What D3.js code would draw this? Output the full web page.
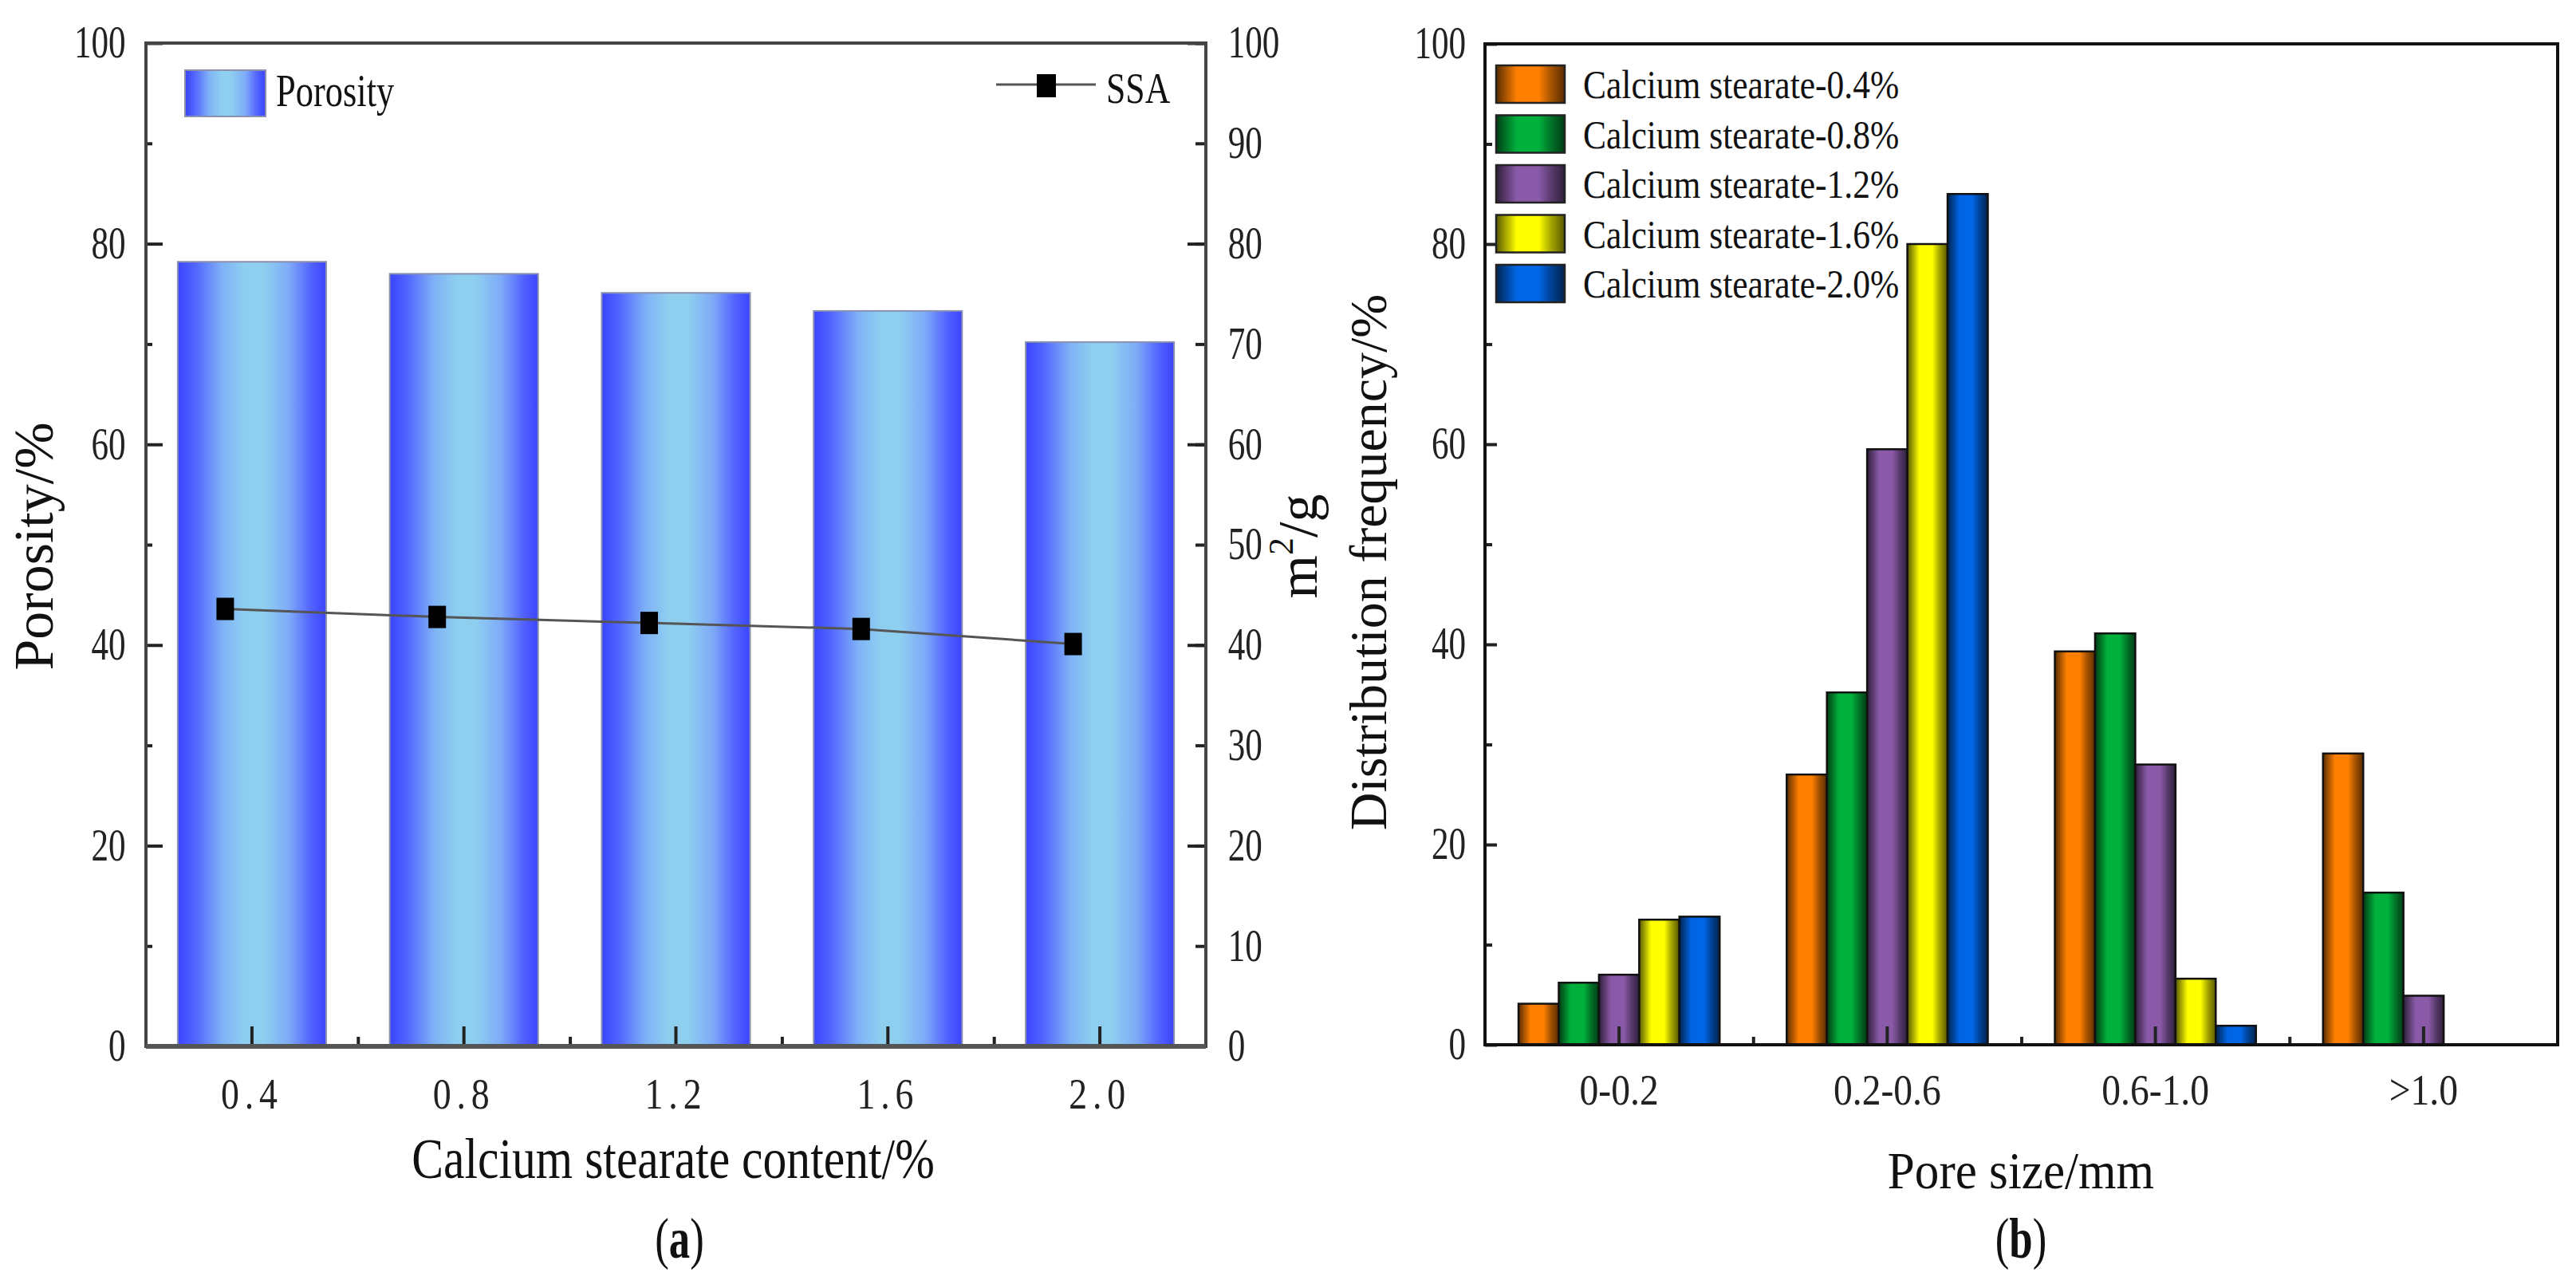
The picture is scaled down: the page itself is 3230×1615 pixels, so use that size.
<!DOCTYPE html>
<html>
<head>
<meta charset="utf-8">
<script src="https://cdn.jsdelivr.net/npm/d3@7"></script>
<style>
  html, body { margin: 0; padding: 0; background: #fff; }
  svg { display: block; font-family: "Liberation Serif", "Times New Roman", serif; }
</style>
</head>
<body>
<svg id="chart" width="3230" height="1615"></svg>
<script>
// panel (a) data
var contents = ["0.4", "0.8", "1.2", "1.6", "2.0"];
var porosity = [78.2, 77.0, 75.1, 73.3, 70.2];
var ssa = [43.6, 42.8, 42.2, 41.6, 40.1];

// panel (b) data
var poreSizes = ["0-0.2", "0.2-0.6", "0.6-1.0", ">1.0"];
var seriesNames = ["Calcium stearate-0.4%", "Calcium stearate-0.8%", "Calcium stearate-1.2%", "Calcium stearate-1.6%", "Calcium stearate-2.0%"];
var freq04 = [4.1, 27.0, 39.3, 29.1];
var freq08 = [6.2, 35.2, 41.1, 15.2];
var freq12 = [7.0, 59.5, 28.0, 4.9];
var freq16 = [12.5, 80.0, 6.6, 0];
var freq20 = [12.8, 85.0, 1.9, 0];
var seriesColors = ["#ff8000", "#00b03c", "#8a5aa8", "#ffff00", "#0066e6"];

var svg = d3.select("#chart");
var defs = svg.append("defs");

// helper for condensed text
function label(parent, x, y, str, size, opts) {
    opts = opts || {};
    var tr = "translate(" + x + "," + y + ")";
    if (opts.rotate) tr += " rotate(" + opts.rotate + ")";
    tr += " scale(" + (opts.sx || 1) + ",1)";
    return parent.append("text")
        .attr("transform", tr)
        .attr("text-anchor", opts.anchor || "start")
        .attr("font-size", size)
        .attr("font-weight", opts.bold ? "bold" : null)
        .attr("fill", "#111")
        .text(str);
}

function styleTicks(g, size, sx) {
    g.attr("font-family", null).attr("font-size", null);
    g.select(".domain").remove();
    g.selectAll(".tick line").attr("stroke", "#222").attr("stroke-width", 4);
    g.selectAll(".tick text")
        .attr("font-size", size)
        .attr("fill", "#222")
        .attr("transform", "scale(" + sx + ",1)");
}

// ---------- panel (a) ----------
var a = { left: 183, right: 1512, top: 54, bottom: 1312 };

var xa = d3.scaleBand().domain(contents).range([a.left, a.right]).paddingInner(0.3).paddingOuter(0.15);
var ya = d3.scaleLinear().domain([0, 100]).range([a.bottom, a.top]);
var ya2 = d3.scaleLinear().domain([0, 100]).range([a.bottom, a.top]);
var xaIdx = d3.scaleLinear().domain([0, contents.length]).range([a.left, a.right]);

var blueGrad = defs.append("linearGradient").attr("id", "blueGrad").attr("x1", 0).attr("x2", 1).attr("y1", 0).attr("y2", 0);
[[0, "#3a44ff"], [0.12, "#5266ff"], [0.3, "#7fb2f6"], [0.45, "#8ecff0"], [0.58, "#8ecff0"], [0.75, "#7eaaf7"], [0.9, "#5262ff"], [1, "#3a44ff"]]
    .forEach(function(s) { blueGrad.append("stop").attr("offset", s[0]).attr("stop-color", s[1]); });

var ga = svg.append("g");

ga.selectAll("rect.bar")
    .data(porosity)
    .enter().append("rect")
    .attr("class", "bar")
    .attr("x", (d, i) => xa(contents[i]))
    .attr("y", (d) => ya(d))
    .attr("width", xa.bandwidth())
    .attr("height", (d) => ya(0) - ya(d))
    .attr("fill", "url(#blueGrad)")
    .attr("stroke", "#8a90b0")
    .attr("stroke-width", 2);

// SSA line
var ssaX = (d, i) => xa(contents[i]) + xa.bandwidth() * 0.32;
var line = d3.line().x(ssaX).y((d) => ya2(d));
ga.append("path")
    .datum(ssa)
    .attr("d", line)
    .attr("fill", "none")
    .attr("stroke", "#555")
    .attr("stroke-width", 3);
ga.selectAll("rect.marker")
    .data(ssa)
    .enter().append("rect")
    .attr("class", "marker")
    .attr("x", (d, i) => ssaX(d, i) - 11)
    .attr("y", (d) => ya2(d) - 14)
    .attr("width", 22)
    .attr("height", 28)
    .attr("fill", "#000");

// left axis
var la = ga.append("g").attr("transform", "translate(" + a.left + ",0)")
    .call(d3.axisLeft(ya).tickValues([0, 20, 40, 60, 80, 100]).tickSize(-21).tickPadding(33));
styleTicks(la, 56, 0.77);
var laMinor = ga.append("g").attr("transform", "translate(" + a.left + ",0)")
    .call(d3.axisLeft(ya).tickValues([10, 30, 50, 70, 90]).tickSize(-8).tickFormat(""));
styleTicks(laMinor, 56, 0.77);

// right axis
var ra = ga.append("g").attr("transform", "translate(" + a.right + ",0)")
    .call(d3.axisRight(ya2).tickValues(d3.range(0, 101, 10)).tickSize(-13).tickPadding(36));
styleTicks(ra, 56, 0.77);
var raMajor = ga.append("g").attr("transform", "translate(" + a.right + ",0)")
    .call(d3.axisRight(ya2).tickValues([0, 20, 40, 60, 80, 100]).tickSize(-23).tickFormat(""));
styleTicks(raMajor, 56, 0.77);

// bottom axis
var ba = ga.append("g").attr("transform", "translate(0," + a.bottom + ")")
    .call(d3.axisBottom(xa).tickSize(-25).tickPadding(40));
styleTicks(ba, 54, 0.85);
ba.selectAll(".tick text").attr("letter-spacing", 8);
var baMinor = ga.append("g").attr("transform", "translate(0," + a.bottom + ")")
    .call(d3.axisBottom(xaIdx).tickValues([1, 2, 3, 4]).tickSize(-12).tickFormat(""));
styleTicks(baMinor, 54, 1);

// frame
ga.append("rect")
    .attr("x", a.left).attr("y", a.top)
    .attr("width", a.right - a.left).attr("height", a.bottom - a.top)
    .attr("fill", "none").attr("stroke", "#444").attr("stroke-width", 4);
ga.append("line")
    .attr("x1", a.left).attr("x2", a.right).attr("y1", a.bottom).attr("y2", a.bottom)
    .attr("stroke", "#555").attr("stroke-width", 6);

// legend (a)
ga.append("rect").attr("x", 232).attr("y", 88).attr("width", 101).attr("height", 58)
    .attr("fill", "url(#blueGrad)").attr("stroke", "#8a90b0").attr("stroke-width", 2);
label(ga, 346, 133, "Porosity", 57, { sx: 0.78 });
ga.append("line").attr("x1", 1249).attr("x2", 1374).attr("y1", 106).attr("y2", 106)
    .attr("stroke", "#555").attr("stroke-width", 3);
ga.append("rect").attr("x", 1300).attr("y", 93).attr("width", 24).attr("height", 29).attr("fill", "#000");
label(ga, 1387, 129, "SSA", 54, { sx: 0.81 });

// titles (a)
label(ga, 66, 685, "Porosity/%", 70, { rotate: -90, anchor: "middle", sx: 1 });
var m2 = ga.append("text")
    .attr("transform", "translate(1651,685) rotate(-90)")
    .attr("text-anchor", "middle")
    .attr("font-size", 70)
    .attr("fill", "#111");
m2.append("tspan").text("m");
m2.append("tspan").attr("font-size", 44).attr("dy", -30).text("2");
m2.append("tspan").attr("dy", 30).text("/g");
label(ga, 844, 1477, "Calcium stearate content/%", 71, { anchor: "middle", sx: 0.84 });
var capA = ga.append("text").attr("transform", "translate(852,1577) scale(0.8,1.1)").attr("text-anchor", "middle").attr("font-size", 66).attr("fill", "#111");
capA.append("tspan").text("(");
capA.append("tspan").attr("font-weight", "bold").text("a");
capA.append("tspan").text(")");

// ---------- panel (b) ----------
var b = { left: 1862, right: 3207, top: 55, bottom: 1310 };
var seriesValues = [freq04, freq08, freq12, freq16, freq20];

var xb = d3.scaleBand().domain(poreSizes).range([b.left, b.right]).paddingInner(0.25).paddingOuter(0.125);
var xb1 = d3.scaleBand().domain(d3.range(seriesNames.length)).range([0, xb.bandwidth()]);
var yb = d3.scaleLinear().domain([0, 100]).range([b.bottom, b.top]);
var xbIdx = d3.scaleLinear().domain([0, poreSizes.length]).range([b.left, b.right]);

seriesColors.forEach(function(c, i) {
    var g = defs.append("linearGradient").attr("id", "grad" + i).attr("x1", 0).attr("x2", 1).attr("y1", 0).attr("y2", 0);
    var dark = (k) => d3.rgb(c).darker(k).formatHex();
    [[0, dark(3)], [0.12, dark(1.4)], [0.3, c], [0.62, c], [0.8, dark(1.2)], [1, dark(3)]]
        .forEach(function(s) { g.append("stop").attr("offset", s[0]).attr("stop-color", s[1]); });
});

var gb = svg.append("g");

seriesValues.forEach(function(vals, si) {
    var cells = poreSizes.map((cat, j) => ({ cat: cat, v: vals[j] })).filter((d) => d.v > 0);
    gb.selectAll("rect.s" + si)
        .data(cells)
        .enter().append("rect")
        .attr("class", "s" + si)
        .attr("x", (d) => xb(d.cat) + xb1(si))
        .attr("y", (d) => yb(d.v))
        .attr("width", xb1.bandwidth())
        .attr("height", (d) => yb(0) - yb(d.v))
        .attr("fill", "url(#grad" + si + ")")
        .attr("stroke", "#111")
        .attr("stroke-width", 2.5);
});

var lb = gb.append("g").attr("transform", "translate(" + b.left + ",0)")
    .call(d3.axisLeft(yb).tickValues([0, 20, 40, 60, 80, 100]).tickSize(-15).tickPadding(31));
styleTicks(lb, 56, 0.77);
var lbMinor = gb.append("g").attr("transform", "translate(" + b.left + ",0)")
    .call(d3.axisLeft(yb).tickValues([10, 30, 50, 70, 90]).tickSize(-9).tickFormat(""));
styleTicks(lbMinor, 56, 0.77);

var bb = gb.append("g").attr("transform", "translate(0," + b.bottom + ")")
    .call(d3.axisBottom(xb).tickSize(-23).tickPadding(35));
styleTicks(bb, 56, 0.85);
var bbMinor = gb.append("g").attr("transform", "translate(0," + b.bottom + ")")
    .call(d3.axisBottom(xbIdx).tickValues([1, 2, 3]).tickSize(-10).tickFormat(""));
styleTicks(bbMinor, 56, 1);

gb.append("rect")
    .attr("x", b.left).attr("y", b.top)
    .attr("width", b.right - b.left).attr("height", b.bottom - b.top)
    .attr("fill", "none").attr("stroke", "#111").attr("stroke-width", 4);

// legend (b)
seriesNames.forEach(function(name, i) {
    var y0 = 82 + i * 62.5;
    gb.append("rect").attr("x", 1876).attr("y", y0).attr("width", 86).attr("height", 47)
        .attr("fill", "url(#grad" + i + ")").attr("stroke", "#222").attr("stroke-width", 2.5);
    label(gb, 1985, y0 + 41, name, 50, { sx: 0.87 });
});

// titles (b)
label(gb, 1738, 705, "Distribution frequency/%", 66, { rotate: -90, anchor: "middle", sx: 1 });
label(gb, 2534, 1490, "Pore size/mm", 65, { anchor: "middle", sx: 0.94 });
var capB = gb.append("text").attr("transform", "translate(2534,1577) scale(0.8,1.1)").attr("text-anchor", "middle").attr("font-size", 66).attr("fill", "#111");
capB.append("tspan").text("(");
capB.append("tspan").attr("font-weight", "bold").text("b");
capB.append("tspan").text(")");
</script>
</body>
</html>
